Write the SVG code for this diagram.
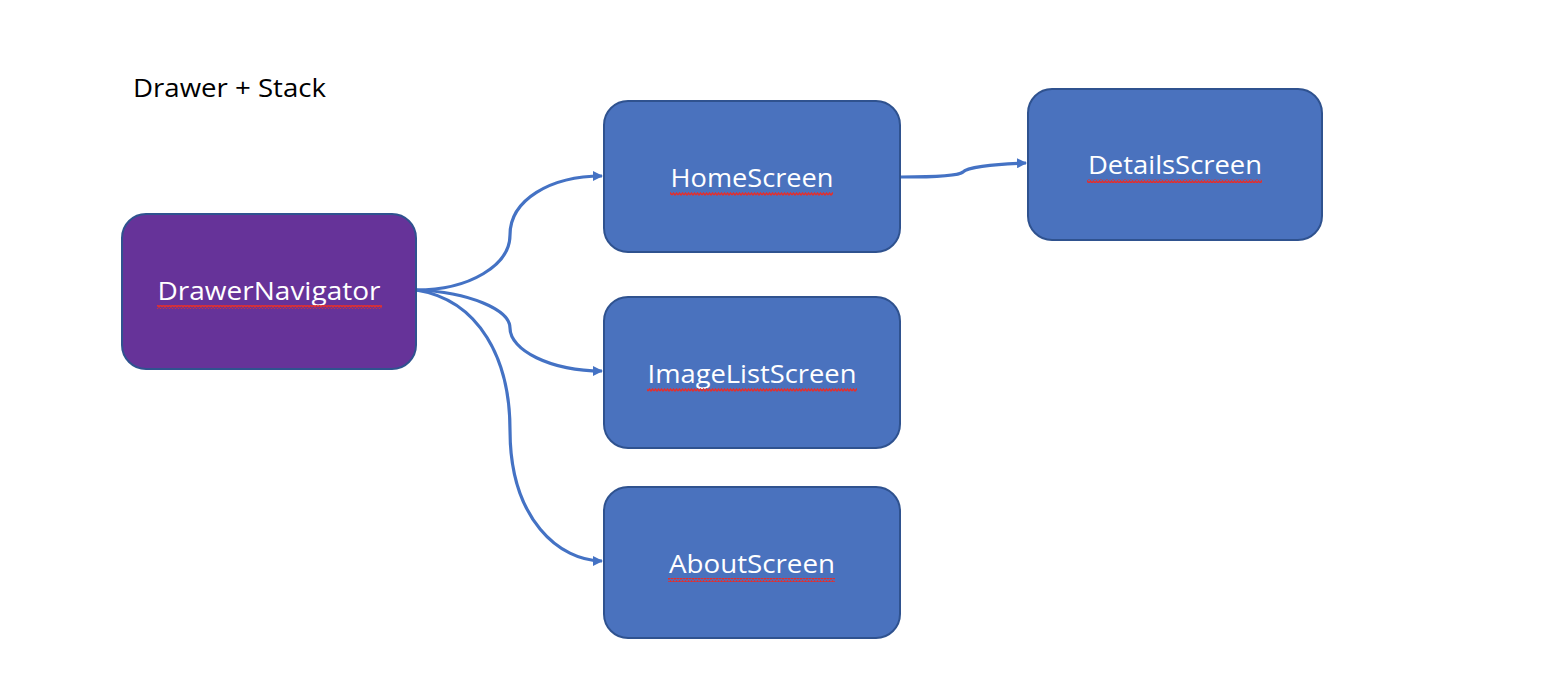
<svg xmlns="http://www.w3.org/2000/svg" width="1560" height="698" viewBox="0 0 1560 698">
<style>
.node{stroke:#2F528F;stroke-width:2}
.blue{fill:#4A72BE}
.purple{fill:#663399}
.lbl{font-family:"Open Sans","Liberation Sans",sans-serif;font-size:26px;fill:#fff;text-anchor:middle}
.title{font-family:"Open Sans","Liberation Sans",sans-serif;font-size:26px;fill:#000}
.edge{fill:none;stroke:#4472C4;stroke-width:3.2}
</style>
<defs>
<marker id="arr" markerWidth="10" markerHeight="10" refX="9" refY="5" orient="auto" markerUnits="userSpaceOnUse">
<path d="M0,0 L10,5 L0,10 z" fill="#4472C4"/>
</marker>
<pattern id="wave" width="6" height="4" patternUnits="userSpaceOnUse">
<path d="M0,3 L1.5,1 L3,3 L4.5,1 L6,3" fill="none" stroke="#E03030" stroke-width="1.4"/>
</pattern>
</defs>
<text class="title" x="133" y="97" textLength="193" lengthAdjust="spacingAndGlyphs">Drawer + Stack</text>
<g id="connectors">
<path class="edge" marker-end="url(#arr)" d="M416,290 C470,290 510,265 510,235 C510,200 550,176 602,176"/>
<path class="edge" marker-end="url(#arr)" d="M416,290 C470,292 510,310 510,328 C510,350 550,371 602,371"/>
<path class="edge" marker-end="url(#arr)" d="M416,290 C480,300 510,360 510,430 C510,520 560,561 602,561"/>
<path class="edge" marker-end="url(#arr)" d="M901,177 C940,177 960,175 963,172 C966,168 990,164 1026,163"/>
</g>
<g id="DrawerNavigator">
<rect class="node purple" x="122" y="214" width="294" height="155" rx="24"/>
<text class="lbl" x="269" y="300" textLength="223" lengthAdjust="spacingAndGlyphs">DrawerNavigator</text>
<rect x="157" y="305" width="225" height="4" fill="url(#wave)"/>
</g>
<g id="HomeScreen">
<rect class="node blue" x="604" y="101" width="296" height="151" rx="24"/>
<text class="lbl" x="752" y="187" textLength="163" lengthAdjust="spacingAndGlyphs">HomeScreen</text>
<rect x="670" y="192" width="163" height="4" fill="url(#wave)"/>
</g>
<g id="ImageListScreen">
<rect class="node blue" x="604" y="297" width="296" height="151" rx="24"/>
<text class="lbl" x="752" y="383" textLength="209" lengthAdjust="spacingAndGlyphs">ImageListScreen</text>
<rect x="647" y="388" width="210" height="4" fill="url(#wave)"/>
</g>
<g id="AboutScreen">
<rect class="node blue" x="604" y="487" width="296" height="151" rx="24"/>
<text class="lbl" x="752" y="573" textLength="166" lengthAdjust="spacingAndGlyphs">AboutScreen</text>
<rect x="668" y="578" width="167" height="4" fill="url(#wave)"/>
</g>
<g id="DetailsScreen">
<rect class="node blue" x="1028" y="89" width="294" height="151" rx="24"/>
<text class="lbl" x="1175" y="174" textLength="174" lengthAdjust="spacingAndGlyphs">DetailsScreen</text>
<rect x="1087" y="179" width="175" height="4" fill="url(#wave)"/>
</g>
</svg>
